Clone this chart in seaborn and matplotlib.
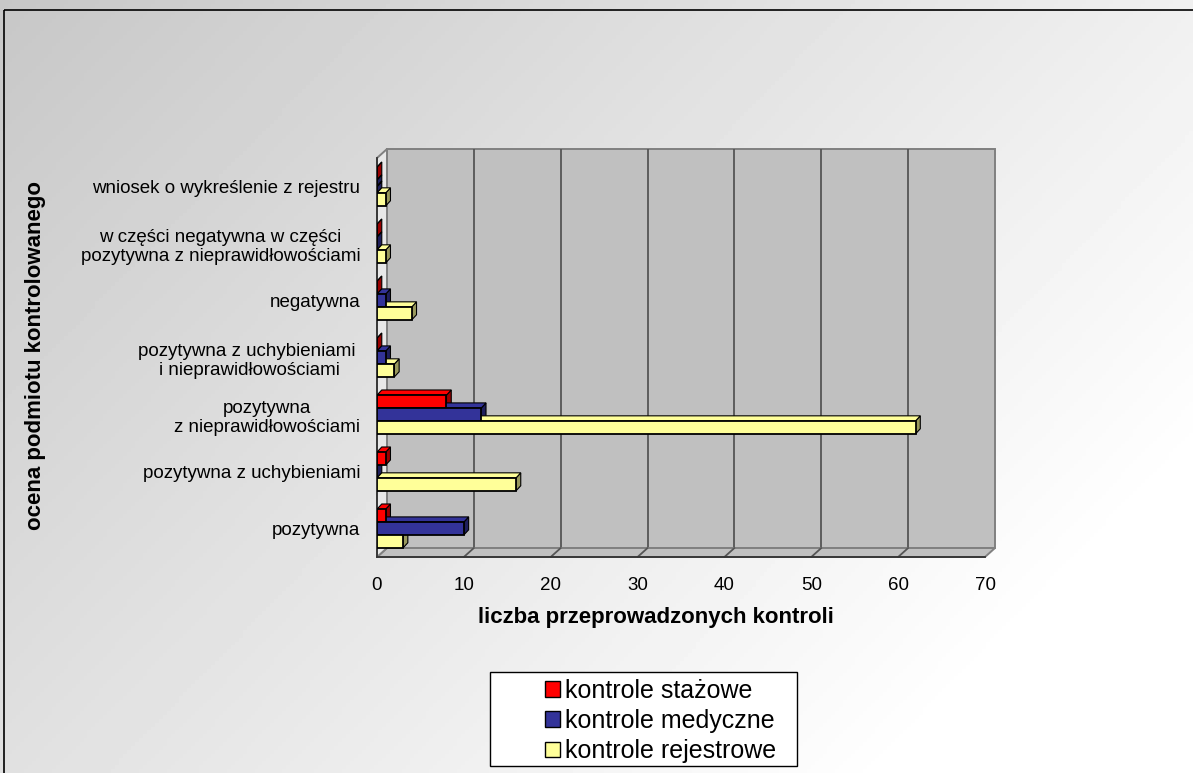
import numpy as np
import pandas as pd
import matplotlib
matplotlib.use("Agg")
import matplotlib.pyplot as plt
import matplotlib.transforms as mtransforms
import seaborn as sns
from matplotlib.patches import Rectangle, Polygon

# dane
categories = [
    "wniosek o wykreślenie z rejestru",
    "w części negatywna w części\npozytywna z nieprawidłowościami",
    "negatywna",
    "pozytywna z uchybieniami \ni nieprawidłowościami",
    "pozytywna\nz nieprawidłowościami",
    "pozytywna z uchybieniami",
    "pozytywna",
]
series = ["kontrole stażowe", "kontrole medyczne", "kontrole rejestrowe"]
stazowe = [0, 0, 0, 0, 8, 1, 1]
medyczne = [0, 0, 1, 1, 12, 0, 10]
rejestrowe = [1, 1, 4, 2, 62, 16, 3]
colors = ["#FF0000", "#333399", "#FFFF99"]

df = pd.DataFrame({
    "ocena": categories * 3,
    "rodzaj": sum([[s] * len(categories) for s in series], []),
    "liczba": stazowe + medyczne + rejestrowe,
})

sns.set_style("white")
plt.rcParams["font.family"] = ["Liberation Sans", "DejaVu Sans"]
plt.rcParams["text.color"] = "black"
plt.rcParams["axes.labelcolor"] = "black"
plt.rcParams["xtick.color"] = "black"
plt.rcParams["ytick.color"] = "black"

W, H = 1193, 773
fig = plt.figure(figsize=(W / 100, H / 100), dpi=100)

# tło z gradientem + ramka
bg = fig.add_axes([0, 0, 1, 1], zorder=-10)
xx, yy = np.meshgrid(np.linspace(0, 1, 300), np.linspace(0, 1, 200))
grad = 0.78 + 0.22 * np.clip((xx * 0.8 + yy * 0.5) / 1.1, 0, 1)
bg.imshow(grad, cmap="gray", vmin=0, vmax=1, extent=[0, W, H, 0], aspect="auto", origin="upper")
bg.add_patch(Rectangle((4, 10), W + 20, H + 20, fill=False, edgecolor="black", lw=1.2))
# ramka legendy
bg.add_patch(Rectangle((490, 672), 307, 94, facecolor="white", edgecolor="black", lw=1))
bg.set_xlim(0, W)
bg.set_ylim(H, 0)
bg.axis("off")

ax = fig.add_axes([377 / W, 1 - 557 / H, (985 - 377) / W, (557 - 158) / H])
ax.set_facecolor("none")
sns.barplot(data=df, x="liczba", y="ocena", hue="rodzaj", orient="h", palette=colors,
            order=categories, hue_order=series, width=0.68, edgecolor="black", linewidth=1.3,
            saturation=1, ax=ax, zorder=3)
ax.set_xlim(0, 70)
ax.set_ylim(len(categories) - 0.5, -0.5)
ax.set_xticks(range(0, 71, 10))

# ściany wykresu 3D (przesunięcie tylnej ściany w pikselach)
n = len(categories)
ox, oy = 10, 9
back = mtransforms.offset_copy(ax.transData, fig=fig, x=ox, y=oy, units="dots")
ax.add_patch(Rectangle((0, -0.5), 70, n, transform=back, facecolor="#C0C0C0",
                       edgecolor="#808080", lw=1.4, zorder=0.5, clip_on=False))
ax.vlines(range(10, 70, 10), -0.5, n - 0.5, transform=back, color="#555555", lw=1.3, zorder=0.6,
          clip_on=False)
fbl = ax.transData.transform((0, n - 0.5))
fbr = ax.transData.transform((70, n - 0.5))
ftl = ax.transData.transform((0, -0.5))
floor = Polygon([fbl, fbr, fbr + (ox, oy), fbl + (ox, oy)], closed=True, transform=None,
                facecolor="#C0C0C0", edgecolor="#808080", lw=1.4, zorder=0.7, clip_on=False)
wall = Polygon([fbl, ftl, ftl + (ox, oy), fbl + (ox, oy)], closed=True, transform=None,
               facecolor="#E8E8E8", edgecolor="#808080", lw=1.4, zorder=0.7, clip_on=False)
ax.add_patch(floor)
ax.add_patch(wall)
for xv in range(10, 70, 10):
    pf = ax.transData.transform((xv, n - 0.5))
    ax.add_line(plt.Line2D([pf[0], pf[0] + ox], [pf[1], pf[1] + oy], transform=None,
                           color="#555555", lw=1.3, zorder=0.8, clip_on=False))

# efekt 3D na słupkach
dx, dy = 0.55, 0.09
for p in list(ax.patches):
    if p.get_zorder() != 3:
        continue
    x0, y0 = p.get_x(), p.get_y()
    w, h = p.get_width(), p.get_height()
    fc = np.array(p.get_facecolor())
    dark = tuple(fc[:3] * 0.6) + (1,)
    ax.add_patch(Polygon([(x0 + w, y0), (x0 + w + dx, y0 - dy), (x0 + w + dx, y0 + h - dy), (x0 + w, y0 + h)],
                         closed=True, facecolor=dark, edgecolor="black", lw=0.8, zorder=2.5))
    ax.add_patch(Polygon([(x0, y0), (x0 + dx, y0 - dy), (x0 + w + dx, y0 - dy), (x0 + w, y0)],
                         closed=True, facecolor=fc, edgecolor="black", lw=0.8, zorder=2.5))

ax.set_yticks(np.arange(n + 1) - 0.5, minor=True)
ax.tick_params(axis="y", which="major", length=0, labelsize=13.5, pad=12)
ax.tick_params(axis="y", which="minor", length=7, width=1.2, color="#333333", direction="out")
ax.tick_params(axis="x", labelsize=13.5, length=7.5, width=1.2, color="#333333", direction="out", pad=7)
for lab in ax.get_yticklabels():
    lab.set_multialignment("center")
ax.spines["top"].set_visible(False)
ax.spines["right"].set_visible(False)
for s in ["left", "bottom"]:
    ax.spines[s].set_color("#333333")
    ax.spines[s].set_linewidth(1.3)
    ax.spines[s].set_zorder(1)

ax.set_xlabel("liczba przeprowadzonych kontroli", fontsize=16, fontweight="bold")
ax.xaxis.set_label_coords((656 - 377) / 608, (557 - 618) / 399)
ax.xaxis.label.set_va("center")
ax.set_ylabel("")
fig.text(36 / W, 1 - 355 / H, "ocena podmiotu kontrolowanego", rotation=90, fontsize=16,
         fontweight="bold", ha="center", va="center")

ax.get_legend().remove()
handles = [Rectangle((0, 0), 1, 1, facecolor=c, edgecolor="black", lw=1) for c in colors]
leg = fig.legend(handles, series, loc="center left", bbox_to_anchor=(545 / W, 1 - 721 / H), fontsize=18,
                 frameon=False, handlelength=0.6, handleheight=0.6, handletextpad=0.2,
                 borderpad=0, labelspacing=0.25, borderaxespad=0)

fig.savefig("out.png", dpi=100)
